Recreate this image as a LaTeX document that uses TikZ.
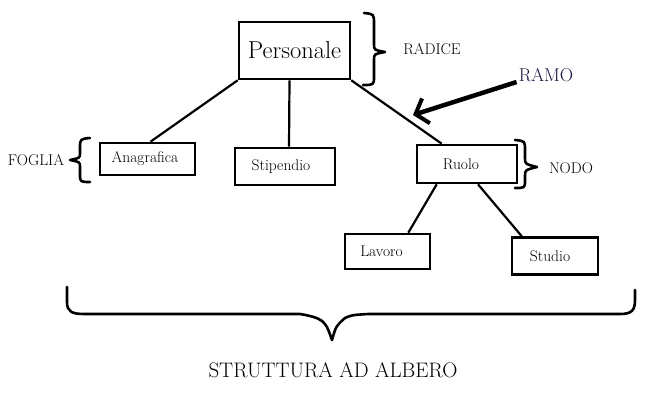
\documentclass[tikz,border=0pt]{standalone}
\usetikzlibrary{arrows.meta}
\definecolor{ramoblue}{RGB}{20,20,60}
\begin{document}
\begin{tikzpicture}[x=1pt,y=-1pt,
  box/.style={draw,line width=2.6pt,inner sep=0pt,font=\fontsize{15.5}{17}\selectfont},
  conn/.style={line width=2.2pt},
  brace/.style={line width=2.6pt,line cap=round,line join=round},
  lbl/.style={font=\fontsize{15.5}{17}\selectfont,inner sep=0pt}]
\useasboundingbox (0,0) rectangle (652,407);
% boxes
\node[box,minimum width=111pt,minimum height=57pt,font=\fontsize{24.5}{26}\selectfont] (P) at (294.5,50.5) {Personale};
\node[box,minimum width=95pt,minimum height=32pt] (Ana) at (147.5,159) {\hspace*{-5pt}Anagrafica};
\node[box,minimum width=100pt,minimum height=37pt] (Sti) at (285,166.5) {\hspace*{-8pt}Stipendio};
\node[box,minimum width=100pt,minimum height=38pt] (Ruo) at (467,164) {\hspace*{-12pt}Ruolo};
\node[box,minimum width=85pt,minimum height=35pt] (Lav) at (387.5,251.5) {\hspace*{-12pt}Lavoro};
\node[box,minimum width=86pt,minimum height=37pt] (Stu) at (555,256) {\hspace*{-10pt}Studio};
% connectors
\draw[conn] (P.south west) -- ([xshift=3pt]Ana.north);
\draw[conn] ([xshift=-5pt]P.south) -- ([xshift=4pt]Sti.north);
\draw[conn] (P.south east) -- ([xshift=26pt]Ruo.north west);
\draw[conn] ([xshift=21pt]Ruo.south west) -- ([xshift=-23pt]Lav.north east);
\draw[conn] ([xshift=11pt]Ruo.south) -- ([xshift=11pt]Stu.north west);
% labels
\node[lbl] (rad) at (432,49) {RADICE};
\node[lbl] (fog) at (36,160) {FOGLIA};
\node[lbl] (nod) at (571,168) {NODO};
\node[lbl,font=\fontsize{18.5}{20}\selectfont,text=ramoblue] (ramo) at (546,75) {RAMO};
\node[inner sep=0pt,font=\fontsize{21}{23}\selectfont] (alb) at (333,370) {STRUTTURA AD ALBERO};
% arrow RAMO
\coordinate (ramotip) at (413,115);
\draw[line width=4.5pt,-{Straight Barb[length=11pt,width=26pt,line width=4pt]}] ([xshift=-2pt,yshift=-7pt]ramo.west) -- (ramotip);
% braces
\draw[brace] (364,13) .. controls (374,14) .. (374,24) -- (374,44) .. controls (374,50) .. (385,52)
  .. controls (374,54) .. (374,60) -- (374,76) .. controls (374,85) .. (363,85);
\draw[brace] (90,138) .. controls (80,139) .. (80,148) -- (80,153) .. controls (80,158) .. (70,160)
  .. controls (80,162) .. (80,167) -- (80,174) .. controls (80,182) .. (90,182);
\draw[brace] (515,140) .. controls (525,141) .. (525,150) -- (525,158) .. controls (525,164) .. (537,167)
  .. controls (525,170) .. (525,176) -- (525,180) .. controls (525,188) .. (515,188);
\draw[brace] (67,287) -- (67,302) .. controls (67,312) and (72,314) .. (85,314) -- (300,314)
  .. controls (312,316) and (318,318) .. (322,321)
  .. controls (327,326) .. (332,340)
  .. controls (336,326) .. (345,318)
  .. controls (352,315) .. (368,314) -- (620,314)
  .. controls (632,314) and (635,310) .. (635,300) -- (635,290);
\end{tikzpicture}
\end{document}
